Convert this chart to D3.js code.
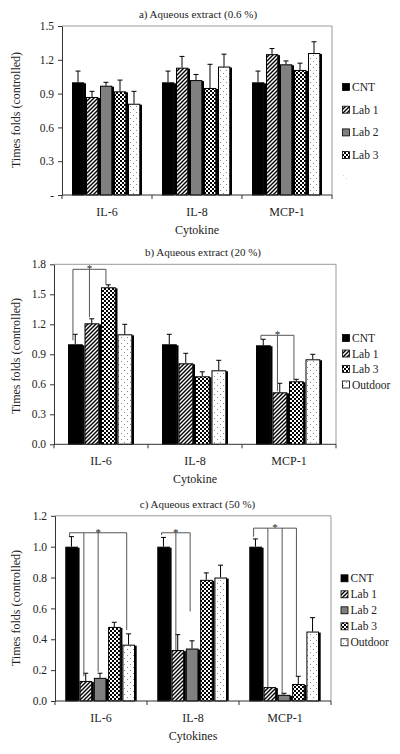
<!DOCTYPE html>
<html><head><meta charset="utf-8">
<script src="https://cdn.jsdelivr.net/npm/d3@7"></script>
<style>body{margin:0;background:#fff}svg{display:block;font-family:"Liberation Serif","Times New Roman",serif}</style>
</head><body><svg id="c" width="400" height="754"></svg>
<script>
// ---------- data ----------
const categories = ["IL-6", "IL-8", "MCP-1"];
const seriesA = ["CNT", "Lab 1", "Lab 2", "Lab 3", "Outdoor"];
const seriesB = ["CNT", "Lab 1", "Lab 3", "Outdoor"];
const seriesC = ["CNT", "Lab 1", "Lab 2", "Lab 3", "Outdoor"];
// means per category (rows) and series (columns)
const meanA = [[1.00, 0.87, 0.97, 0.92, 0.81], [1.00, 1.13, 1.02, 0.95, 1.14], [1.00, 1.25, 1.16, 1.11, 1.26]];
const errA  = [[0.10, 0.05, 0.03, 0.10, 0.11], [0.10, 0.10, 0.05, 0.21, 0.11], [0.10, 0.05, 0.03, 0.06, 0.10]];
const meanB = [[1.00, 1.21, 1.57, 1.10], [1.00, 0.81, 0.68, 0.74], [0.99, 0.52, 0.63, 0.85]];
const errB  = [[0.10, 0.045, 0.025, 0.10], [0.10, 0.10, 0.045, 0.10], [0.06, 0.09, 0.02, 0.05]];
const meanC = [[1.00, 0.13, 0.15, 0.48, 0.365], [1.00, 0.33, 0.34, 0.785, 0.80], [1.00, 0.09, 0.04, 0.11, 0.45]];
const errC  = [[0.065, 0.05, 0.03, 0.03, 0.07], [0.06, 0.10, 0.05, 0.045, 0.08], [0.05, 0.0, 0.01, 0.05, 0.09]];
const ticksA = [0, 0.3, 0.6, 0.9, 1.2, 1.5];
const tickLabelsA = ["-", "0.3", "0.6", "0.9", "1.2", "1.5"];
const ticksB = [0, 0.3, 0.6, 0.9, 1.2, 1.5, 1.8];
const tickLabelsB = ["0.0", "0.3", "0.6", "0.9", "1.2", "1.5", "1.8"];
const ticksC = [0, 0.2, 0.4, 0.6, 0.8, 1.0, 1.2];
const tickLabelsC = ["0.0", "0.2", "0.4", "0.6", "0.8", "1.0", "1.2"];
// significance brackets: category, level, [series, drop-end value]
const bracketsB = [
  {cat: "IL-6", level: 1.75, drops: [["CNT", 1.04], ["Lab 1", 1.27], ["Lab 3", 1.60]]},
  {cat: "MCP-1", level: 1.09, drops: [["CNT", 1.05], ["Lab 1", 0.53], ["Lab 3", 0.64]]}
];
const bracketsC = [
  {cat: "IL-6", level: 1.09, drops: [["CNT", 1.07], ["Lab 1", 0.16], ["Lab 2", 0.19], ["Outdoor", 0.46]]},
  {cat: "IL-8", level: 1.09, drops: [["CNT", 1.075], ["Lab 1", 0.33], ["Lab 2", 0.58]]},
  {cat: "MCP-1", level: 1.12, drops: [["CNT", 1.065], ["Lab 1", 0.09], ["Lab 2", 0.04], ["Lab 3", 0.16]]}
];

// ---------- drawing ----------
const svg = d3.select("#c");
const defs = svg.append("defs");
// patterns
const p1 = defs.append("pattern").attr("id", "p-lab1").attr("patternUnits", "userSpaceOnUse").attr("width", 4).attr("height", 4);
p1.append("rect").attr("width", 4).attr("height", 4).attr("fill", "#fff");
p1.append("path").attr("d", "M-1,1 L1,-1 M0,4 L4,0 M3,5 L5,3").attr("stroke", "#000").attr("stroke-width", 1.4);
const p3 = defs.append("pattern").attr("id", "p-lab3").attr("patternUnits", "userSpaceOnUse").attr("width", 4).attr("height", 4);
p3.append("rect").attr("width", 4).attr("height", 4).attr("fill", "#fff");
p3.append("rect").attr("width", 2).attr("height", 2).attr("fill", "#000");
p3.append("rect").attr("x", 2).attr("y", 2).attr("width", 2).attr("height", 2).attr("fill", "#000");
const po = defs.append("pattern").attr("id", "p-out").attr("patternUnits", "userSpaceOnUse").attr("width", 6).attr("height", 6);
po.append("rect").attr("width", 6).attr("height", 6).attr("fill", "#fff");
po.append("rect").attr("x", 1).attr("y", 1).attr("width", 1).attr("height", 1).attr("fill", "#888");
po.append("rect").attr("x", 4).attr("y", 4).attr("width", 1).attr("height", 1).attr("fill", "#888");

const fills = {"CNT": "#000", "Lab 1": "url(#p-lab1)", "Lab 2": "#808080", "Lab 3": "url(#p-lab3)", "Outdoor": "url(#p-out)"};

function panel(o) {
  const g = svg.append("g");
  const y = d3.scaleLinear().domain([0, o.ymax]).range([o.bottom, o.top]);
  const x0 = d3.scaleBand().domain(categories).range([o.left, o.right]);
  const x1 = d3.scaleBand().domain(o.series).range([o.pad, x0.bandwidth() - o.pad]);
  const slot = x1.bandwidth();
  // frame
  g.append("path").attr("d", `M${o.left},${o.top}H${o.right}V${o.bottom}`).attr("fill", "none").attr("stroke", "#999").attr("stroke-width", 1);
  // bars
  categories.forEach((c, ci) => {
    o.series.forEach((s, si) => {
      const v = o.mean[ci][si], e = o.err[ci][si];
      const bx = x0(c) + x1(s);
      const cx = bx + (slot - 2) / 2;
      // error bar
      if (e > 0) {
        g.append("line").attr("x1", cx).attr("x2", cx).attr("y1", y(v)).attr("y2", y(v + e)).attr("stroke", "#000").attr("stroke-width", 1);
        g.append("line").attr("x1", cx - 2.5).attr("x2", cx + 2.5).attr("y1", y(v + e)).attr("y2", y(v + e)).attr("stroke", "#000").attr("stroke-width", 1);
      }
      // shadow
      g.append("rect").attr("x", bx + slot - 2.2).attr("y", y(v) + 1).attr("width", 2.2).attr("height", y(0) - y(v) - 1).attr("fill", "#000");
      g.append("rect").attr("x", bx + 0.5).attr("y", y(v) + 0.5).attr("width", slot - 2.7).attr("height", y(0) - y(v) - 0.5)
        .attr("fill", fills[s]).attr("stroke", "#000").attr("stroke-width", 1);
    });
  });
  // y axis
  const ya = d3.axisLeft(y).tickValues(o.ticks).tickFormat((d, i) => o.tickLabels[i]).tickSize(4).tickSizeOuter(0);
  const yg = g.append("g").attr("transform", `translate(${o.left},0)`).call(ya);
  yg.select(".domain").attr("stroke", "#333");
  yg.selectAll(".tick line").attr("stroke", "#333");
  yg.selectAll("text").attr("font-family", "Liberation Serif").attr("font-size", 11.5).attr("fill", "#222").attr("x", -8);
  // x axis
  g.append("line").attr("x1", o.left).attr("x2", o.right).attr("y1", o.bottom).attr("y2", o.bottom).attr("stroke", "#333");
  const bounds = categories.map(c => x0(c)).concat([o.right]);
  bounds.forEach(b => g.append("line").attr("x1", b).attr("x2", b).attr("y1", o.bottom).attr("y2", o.bottom + 4).attr("stroke", "#333"));
  categories.forEach(c => g.append("text").attr("x", x0(c) + x0.bandwidth() / 2).attr("y", o.bottom + 21)
    .attr("text-anchor", "middle").attr("font-size", 12).attr("fill", "#222").text(c));
  g.append("text").attr("x", (o.left + o.right) / 2).attr("y", o.bottom + 39).attr("text-anchor", "middle").attr("font-size", 12).attr("fill", "#222").text(o.xlabel);
  g.append("text").attr("transform", `translate(20,${o.ycenter}) rotate(-90)`).attr("text-anchor", "middle").attr("font-size", 12).attr("fill", "#222").text("Times folds (controlled)");
  g.append("text").attr("x", o.titleX).attr("y", o.top - 8).attr("text-anchor", "middle").attr("font-size", 11).attr("fill", "#222").text(o.title);
  // brackets
  (o.brackets || []).forEach(b => {
    const xs = b.drops.map(d => x0(b.cat) + x1(d[0]) + slot * 0.3);
    const ly = y(b.level);
    g.append("line").attr("x1", d3.min(xs)).attr("x2", d3.max(xs)).attr("y1", ly).attr("y2", ly).attr("stroke", "#555").attr("stroke-width", 1);
    b.drops.forEach((d, i) => g.append("line").attr("x1", xs[i]).attr("x2", xs[i]).attr("y1", ly).attr("y2", y(d[1])).attr("stroke", "#555").attr("stroke-width", 1));
    g.append("text").attr("x", (d3.min(xs) + d3.max(xs)) / 2).attr("y", ly + 3).attr("text-anchor", "middle").attr("font-size", 11).attr("fill", "#222").text("*");
  });
  // legend
  o.legend.forEach((s, i) => {
    const ly = o.legendY + i * o.legendStep;
    g.append("rect").attr("x", o.legendX + 0.5).attr("y", ly - 3.5).attr("width", 7).attr("height", 7).attr("fill", fills[s]).attr("stroke", "#000").attr("stroke-width", 0.8);
    g.append("text").attr("x", o.legendX + 10).attr("y", ly + 4).attr("font-size", 11.5).attr("fill", "#222").text(s);
  });
  if (o.faint) {
    g.append("rect").attr("x", o.legendX + 1).attr("y", o.legendY + o.legend.length * o.legendStep - 3).attr("width", 6).attr("height", 6)
      .attr("fill", "url(#p-out)").attr("opacity", 0.35);
  }
}

panel({top: 26, bottom: 195, left: 62, right: 332, pad: 10, ymax: 1.5, series: seriesA, mean: meanA, err: errA,
  ticks: ticksA, tickLabels: tickLabelsA, xlabel: "Cytokine", ycenter: 110, title: "a) Aqueous extract (0.6 %)", titleX: 198,
  legend: ["CNT", "Lab 1", "Lab 2", "Lab 3"], legendX: 342, legendY: 87, legendStep: 22.7, faint: true});
panel({top: 264.3, bottom: 444.3, left: 54, right: 336, pad: 14, ymax: 1.8, series: seriesB, mean: meanB, err: errB,
  ticks: ticksB, tickLabels: tickLabelsB, xlabel: "Cytokine", ycenter: 356, title: "b) Aqueous extract (20 %)", titleX: 203,
  brackets: bracketsB, legend: ["CNT", "Lab 1", "Lab 3", "Outdoor"], legendX: 342, legendY: 338, legendStep: 15.5});
panel({top: 515.8, bottom: 701, left: 55, right: 331, pad: 10.3, ymax: 1.2, series: seriesC, mean: meanC, err: errC,
  ticks: ticksC, tickLabels: tickLabelsC, xlabel: "Cytokines", ycenter: 608, title: "c) Aqueous extract (50 %)", titleX: 197.5,
  brackets: bracketsC, legend: ["CNT", "Lab 1", "Lab 2", "Lab 3", "Outdoor"], legendX: 340.5, legendY: 578.3, legendStep: 16});
</script></body></html>
